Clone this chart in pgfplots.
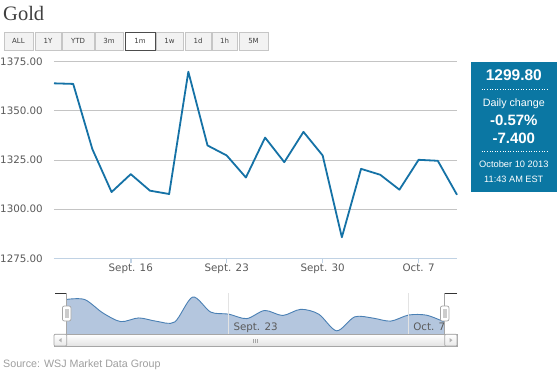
\documentclass[border=0pt]{standalone}
\usepackage{fontspec}
\setmainfont{Liberation Sans}
\newfontfamily\dejavu{DejaVu Sans}
\newfontfamily\serifT{Liberation Serif}
\usepackage{pgfplots}
\pgfplotsset{compat=1.18}
\usepackage{pgfplotstable}
\definecolor{linec}{HTML}{1572A6}
\definecolor{boxc}{HTML}{0B77A3}
\definecolor{navfill}{HTML}{B4C6DE}
\definecolor{navline}{HTML}{4A80B4}
\definecolor{gridc}{HTML}{C4C4C4}
\definecolor{axisc}{HTML}{C0D2E4}
\definecolor{labc}{HTML}{5A5A5A}
\pgfplotstableread{
x y
-4 1364.0
-3 1363.7
-2 1330.5
-1 1308.7
0 1317.8
1 1309.4
2 1307.7
3 1369.9
4 1332.4
5 1327.3
6 1316.1
7 1336.4
8 1323.9
9 1339.3
10 1327.3
11 1285.7
12 1320.5
13 1317.5
14 1309.9
15 1325.1
16 1324.6
17 1307.3
}\gold
\begin{document}
\begin{tikzpicture}[x=1pt,y=1pt]
\useasboundingbox (0,0) rectangle (560,373);
\fill[white] (0,0) rectangle (560,373);
% title
\node[anchor=base west, inner sep=0pt, text=black!75] at (3,352.3) {\serifT\fontsize{20.5pt}{24pt}\selectfont Gold};
% buttons
\foreach \a/\b/\t in {4/33/ALL, 35/61/1Y, 62/94/YTD, 95/123/3m, 156/183/1w, 185/211/1d, 212/237/1h, 239/268/5M} {
  \draw[draw=gray!45, fill=gray!10] (\a,323) rectangle (\b,341);
  \node[text=black!75, inner sep=0pt, font=\dejavu\fontsize{7pt}{8pt}\selectfont] at ({(\a+\b)/2},332) {\t};
}
\draw[draw=black!70, fill=white, line width=0.8pt] (125,323) rectangle (155,341);
\node[text=black!75, inner sep=0pt, font=\dejavu\fontsize{7pt}{8pt}\selectfont] at (140,332) {1m};
% main chart
\begin{axis}[
  at={(54pt,114.7pt)}, anchor=south west,
  scale only axis, width=403pt, height=196.6pt,
  xmin=-4, xmax=17, ymin=1275, ymax=1375,
  axis x line*=bottom, axis y line*=left,
  axis line style={-},
  x axis line style={draw=axisc, line width=1pt},
  y axis line style={draw=none},
  xtick={0,5,10,15}, xticklabels={Sept. 16,Sept. 23,Sept. 30,Oct. 7},
  ytick={1275,1300,1325,1350,1375},
  yticklabels={1275.00,1300.00,1325.00,1350.00,1375.00},
  tick align=outside, major tick length=5pt,
  xtick style={draw=axisc, line width=1.5pt},
  ytick style={draw=none},
  ymajorgrids, grid style={draw=gridc, line width=0.9pt},
  tick label style={font=\dejavu\fontsize{10.3pt}{12pt}\selectfont, text=labc},
  yticklabel style={anchor=east, inner sep=0pt, xshift=-6pt},
  xticklabel style={anchor=north, inner sep=0pt},
  /pgf/number format/assume math mode=true,
  clip=false,
]
\addplot[linec, line width=1.8pt, line join=round] table[x=x,y=y] {\gold};
\end{axis}
% navigator
\begin{axis}[
  at={(66.7pt,38.7pt)}, anchor=south west,
  scale only axis, width=378pt, height=41pt,
  xmin=-4, xmax=17, ymin=1277, ymax=1379.2,
  axis line style={draw=none}, tick style={draw=none},
  xtick={5,15}, xticklabels={}, ytick=\empty,
  xmajorgrids, grid style={draw=gray!22, line width=1.2pt},
  axis on top,
]
\addplot[draw=none, fill=navfill, smooth] table[x=x,y=y] {\gold} \closedcycle;
\addplot[navline, line width=0.9pt, smooth] table[x=x,y=y] {\gold};
\node[anchor=base west, inner sep=0pt, xshift=4.6pt, yshift=4.3pt, text=labc, font=\dejavu\fontsize{10.3pt}{12pt}\selectfont] at (axis cs:5,1277) {Sept. 23};
\node[anchor=base west, inner sep=0pt, xshift=4.4pt, yshift=4.3pt, text=labc, font=\dejavu\fontsize{10.3pt}{12pt}\selectfont] at (axis cs:15,1277) {Oct. 7};
\end{axis}
% brackets
\draw[black!80, line width=0.8pt] (55,79.7) -- (66.7,79.7);
\draw[gray!70, line width=0.8pt] (66.7,79.7) -- (66.7,38.7);
\draw[black!80, line width=0.8pt] (457,79.7) -- (444.7,79.7);
\draw[gray!70, line width=0.8pt] (444.7,79.7) -- (444.7,38.7);
% handles
\foreach \c in {66.7,444.7} {
  \draw[gray!70, fill=white, rounded corners=2pt, line width=0.7pt] ({\c-4.3},52) rectangle ({\c+4.3},67);
  \fill[gray!40] ({\c-2.2},55) rectangle ({\c+2.2},64);
}
% scrollbar
\shade[top color=white, bottom color=gray!22] (54,27) rectangle (457,38.7);
\draw[gray!70, line width=0.7pt] (54,27) rectangle (457,38.7);
\foreach \a/\b in {54/66.7, 444.7/457} {
  \draw[gray!70, line width=0.7pt, top color=white, bottom color=gray!18, rounded corners=1pt] (\a,27) rectangle (\b,38.7);
}
\fill[gray!60] (58.8,32.8) -- (61.6,35) -- (61.6,30.6) -- cycle;
\fill[gray!60] (452.4,32.8) -- (449.6,35) -- (449.6,30.6) -- cycle;
\foreach \g in {253.3,255.3,257.3} { \draw[gray!70, line width=0.6pt] (\g,30) -- (\g,34.5); }
% info box
\fill[boxc] (471,181.3) rectangle (556.7,311.3);
\node[anchor=base, inner sep=0pt, text=white, font=\bfseries\fontsize{15.5pt}{18pt}\selectfont] at (513.8,292) {1299.80};
\draw[white, dotted, line width=0.6pt] (481.7,283.7) -- (547.3,283.7);
\node[anchor=base, inner sep=0pt, text=white, font=\fontsize{10.7pt}{12pt}\selectfont] at (513.8,266.3) {Daily change};
\node[anchor=base, inner sep=0pt, text=white, font=\bfseries\fontsize{15pt}{18pt}\selectfont] at (513.8,247.3) {-0.57\%};
\node[anchor=base, inner sep=0pt, text=white, font=\bfseries\fontsize{15pt}{18pt}\selectfont] at (513.8,229.3) {-7.400};
\draw[white, dotted, line width=0.6pt] (481.7,221.3) -- (547.3,221.3);
\node[anchor=base, inner sep=0pt, text=white, font=\fontsize{9.3pt}{11pt}\selectfont] at (513.8,206) {October 10 2013};
\node[anchor=base, inner sep=0pt, text=white, font=\fontsize{9.2pt}{11pt}\selectfont] at (513.8,190) {11:43 AM EST};
% source
\node[anchor=base west, inner sep=0pt, text=gray!75, font=\fontsize{10.7pt}{12pt}\selectfont] at (3,5.7) {Source: WSJ Market Data Group};
\end{tikzpicture}
\end{document}
